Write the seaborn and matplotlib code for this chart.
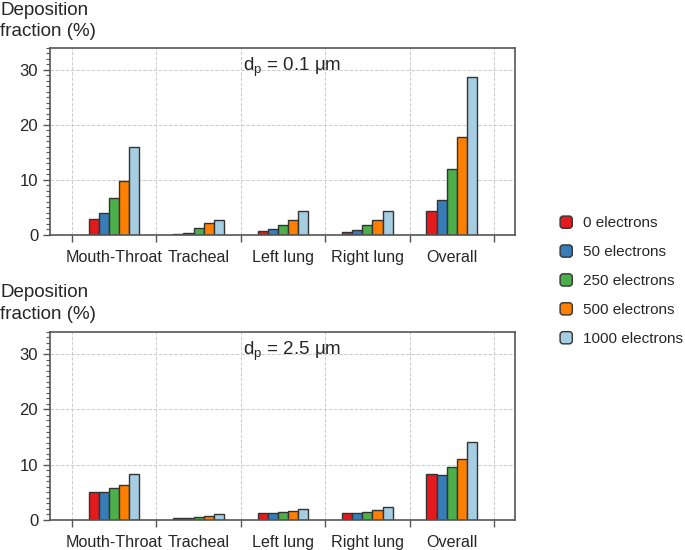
#!/usr/bin/env python3
import numpy as np
import pandas as pd
import matplotlib
matplotlib.use("Agg")
import matplotlib.pyplot as plt
from matplotlib.ticker import MultipleLocator, FixedLocator, NullFormatter
from matplotlib.patches import FancyBboxPatch
from matplotlib.legend_handler import HandlerPatch
import seaborn as sns

# Regions and charge levels
regions = ["Mouth-Throat", "Tracheal", "Left lung", "Right lung", "Overall"]
charges = ["0 electrons", "50 electrons", "250 electrons", "500 electrons", "1000 electrons"]
colors = ["#e41a1c", "#377eb8", "#4daf4a", "#ff7f00", "#a6cee3"]

# Deposition fraction (%) for dp = 0.1 um, one list per charge level
dep_01_e0 = [2.8, 0.2, 0.7, 0.55, 4.4]
dep_01_e50 = [3.9, 0.4, 1.0, 0.9, 6.3]
dep_01_e250 = [6.7, 1.3, 1.8, 1.8, 11.9]
dep_01_e500 = [9.8, 2.2, 2.7, 2.7, 17.85]
dep_01_e1000 = [15.9, 2.7, 4.25, 4.25, 28.7]

# Deposition fraction (%) for dp = 2.5 um
dep_25_e0 = [5.0, 0.3, 1.33, 1.33, 8.3]
dep_25_e50 = [5.0, 0.3, 1.2, 1.33, 8.2]
dep_25_e250 = [5.75, 0.55, 1.45, 1.45, 9.5]
dep_25_e500 = [6.4, 0.8, 1.57, 1.75, 11.0]
dep_25_e1000 = [8.3, 1.15, 1.94, 2.3, 14.1]

panel_titles = [r"d$_\mathrm{p}$ = 0.1 μm", r"d$_\mathrm{p}$ = 2.5 μm"]


def to_long(series_list):
    """Turn per-charge lists into a long DataFrame for seaborn"""
    rows = []
    for charge, values in zip(charges, series_list):
        for region, v in zip(regions, values):
            rows.append({"region": region, "charge": charge, "value": v})
    return pd.DataFrame(rows)


class RoundedSquareHandler(HandlerPatch):
    """Legend handle drawn as a small square with rounded corners"""
    def create_artists(self, legend, orig_handle, xdescent, ydescent,
                       width, height, fontsize, trans):
        size = min(width, height)
        x0 = -xdescent + (width - size) / 2
        y0 = -ydescent + (height - size) / 2
        p = FancyBboxPatch((x0, y0), size, size,
                           boxstyle=f"round,pad=0,rounding_size={size * 0.25}",
                           facecolor=orig_handle.get_facecolor(),
                           edgecolor="#333333", linewidth=1.0, transform=trans)
        return [p]


df_top = to_long([dep_01_e0, dep_01_e50, dep_01_e250, dep_01_e500, dep_01_e1000])
df_bot = to_long([dep_25_e0, dep_25_e50, dep_25_e250, dep_25_e500, dep_25_e1000])

sns.set_theme(style="ticks")
plt.rcParams["font.family"] = ["Liberation Sans", "DejaVu Sans"]
plt.rcParams["mathtext.fontset"] = "custom"
plt.rcParams["mathtext.rm"] = "Liberation Sans"

fig = plt.figure(figsize=(6.85, 5.5), dpi=100)
ax_top = fig.add_axes([0.073, 0.573, 0.679, 0.340])
ax_bot = fig.add_axes([0.073, 0.0545, 0.679, 0.342])

spine_color = "#555555"

for ax, df, title in [(ax_top, df_top, panel_titles[0]), (ax_bot, df_bot, panel_titles[1])]:
    sns.barplot(data=df, x="region", y="value", hue="charge", hue_order=charges,
                order=regions, palette=colors, width=0.6, edgecolor="#333333",
                linewidth=1.0, saturation=1, ax=ax, legend=(ax is ax_top))

    ax.set_xlim(-0.76, 4.75)
    ax.set_ylim(0, 34)

    # grid ticks between categories, labels at category centers
    ax.xaxis.set_major_locator(FixedLocator(np.arange(-0.5, 5.0, 1.0)))
    ax.xaxis.set_major_formatter(NullFormatter())
    ax.set_xticks(np.arange(len(regions)), labels=regions, minor=True)
    ax.tick_params(axis="x", which="major", length=5, width=1, color=spine_color, direction="out")
    ax.tick_params(axis="x", which="minor", length=0, labelsize=11.6, pad=11)

    ax.yaxis.set_major_locator(MultipleLocator(10))
    ax.yaxis.set_minor_locator(MultipleLocator(1))
    ax.tick_params(axis="y", which="major", length=5, width=1, color=spine_color, labelsize=12)
    ax.tick_params(axis="y", which="minor", length=3, width=0.8, color=spine_color)

    ax.grid(True, which="major", linestyle="--", linewidth=0.7, color="#cccccc")
    ax.set_axisbelow(True)
    for s in ax.spines.values():
        s.set_visible(True)
        s.set_color(spine_color)
        s.set_linewidth(1.2)

    ax.set_xlabel("")
    ax.set_ylabel("")
    ax.text(0.52, 0.895, title, transform=ax.transAxes, ha="center", va="center", fontsize=13.5)

# y labels sit above the axes, horizontal
fig.text(0.0, 0.997, "Deposition\nfraction (%)", ha="left", va="top", fontsize=13.5, linespacing=1.35)
fig.text(0.0, 0.483, "Deposition\nfraction (%)", ha="left", va="top", fontsize=13.5, linespacing=1.35)

# legend on the right between the panels
handles, labels = ax_top.get_legend_handles_labels()
ax_top.get_legend().remove()
fig.legend(handles, labels, loc="center left", bbox_to_anchor=(0.797, 0.489),
           frameon=False, fontsize=11, handlelength=0.85, handleheight=0.85,
           labelspacing=0.95, handletextpad=0.7,
           handler_map={h: RoundedSquareHandler() for h in handles})

plt.savefig("out.png", dpi=100)
